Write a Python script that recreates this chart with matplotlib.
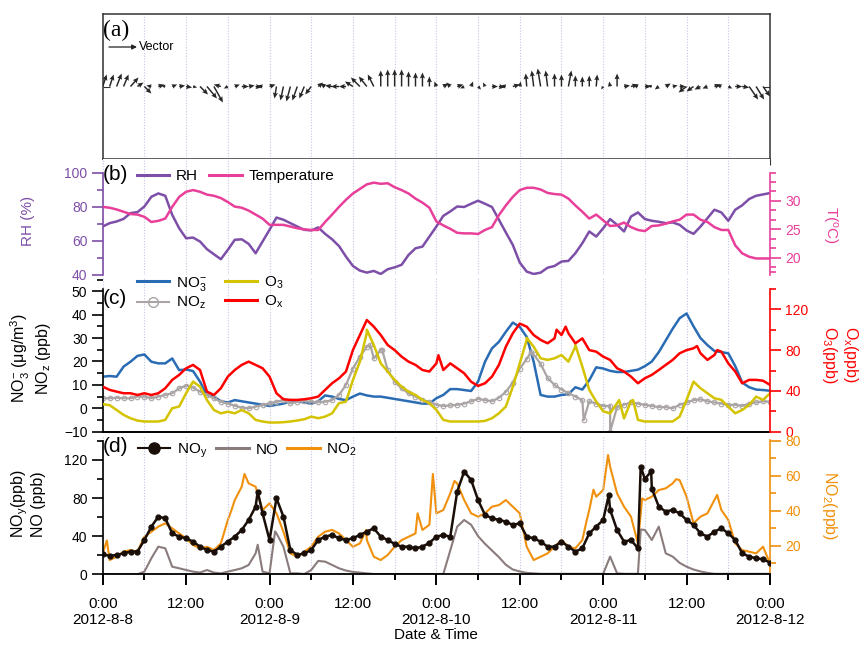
import numpy as np
import matplotlib.pyplot as plt
from matplotlib.ticker import MultipleLocator, FixedLocator
from matplotlib.lines import Line2D

plt.rcParams['font.family'] = ['Liberation Sans', 'DejaVu Sans']
plt.rcParams['mathtext.fontset'] = 'custom'
plt.rcParams['mathtext.rm'] = 'Liberation Sans'
plt.rcParams['mathtext.it'] = 'Liberation Sans:italic'
plt.rcParams['mathtext.bf'] = 'Liberation Sans:bold'

# hourly values, 2012-8-8 0:00 ... 2012-8-12 0:00
hours = np.arange(97)

# (a) wind vector components (screen px, u east / v north)
wind_u = [4, 4, 5, 5, 8, 6, 7, -5, 6, -4, 5, 6,
          6, 4, 8, 10, 9, -7, -4, 5, 7, 6, 6, -5,
          6, -2, -3, -4, -5, -5, -6, 5, -5, -7, -8, -7,
          -8, -9, -8, -6, 0, 0, 0, 0, 0, 0, 0, 0,
          -2, 5, -4, 6, -4, 2, 3, -2, 6, 6, -5, 7,
          1, -1, -2, -3, -2, 0, 0, 3, 0, 0, 0, 1,
          -2, -1, 0, 6, 7, -5, 6, -4, -4, 5, 5, 6,
          -8, -7, -6, -5, 6, -5, 4, 7, 7, 9, 8, 7, 6]
wind_v = [12, 12, 13, 12, 9, 4, -7, 1, 2, 1, 2, 1,
          -1, -1, -8, -12, -16, 2, -2, 2, 0, 1, -1, 1,
          2, -12, -14, -15, -14, -12, -8, 4, 3, 1, 0, 0,
          5, 9, 10, 12, 16, 17, 17, 17, 15, 14, 14, 10,
          5, 3, 4, 2, -2, 5, -3, 4, 0, -1, 1, 2,
          5, 13, 16, 18, 16, 13, 12, 16, 11, 10, 11, 12,
          -3, 5, 13, 1, 2, 2, 0, 1, -3, 3, 1, 0,
          -6, -5, -3, -2, 2, 2, -2, 0, -1, -13, -13, -10, 4]

# (b)
rh = [68.5, 70.5, 71.5, 73, 76.4, 77, 80.3, 86, 88, 86.6, 75.4, 67.5,
      61.6, 62, 59.7, 55.2, 52.2, 49.3, 54.8, 60.7, 61, 58.3, 52.8, 59.7,
      66.6, 73.8, 72.5, 70.5, 68.5, 66.6, 66.2, 68, 64.2, 61, 57, 50.8,
      45.3, 42.6, 41.4, 42.4, 40.6, 43.4, 44.5, 46, 51.8, 55.7, 56.7, 62.6,
      68.5, 74.8, 77.4, 80.3, 80, 81.9, 83.7, 81.9, 80, 72.5, 65, 57.7,
      47.3, 42, 40.6, 41.4, 44.3, 45.3, 47.9, 48.3, 52.8, 58.7, 65.6, 62.6,
      67.5, 72.9, 69.5, 65.6, 74.4, 76.8, 72.9, 71.9, 71.3, 70.5, 70.9, 69.5,
      66.2, 64.2, 68.5, 73.4, 78.4, 76.8, 71.9, 78.4, 81, 84.7, 86.6, 87.4, 88.2]
temp = [28.95, 28.8, 28.5, 28.1, 27.7, 27.6, 27.2, 26.3, 26.5, 26.9, 28.95, 30.7,
        31.6, 31.9, 31.6, 31.1, 30.9, 30.5, 29.8, 29, 28.8, 28.3, 27.6, 26.9,
        25.8, 25.8, 25.8, 25.5, 25.2, 25, 24.9, 24.9, 26.3, 27.6, 28.95, 30.2,
        31.3, 32.1, 32.9, 33.2, 33, 33.1, 32.4, 31.9, 31.3, 30.4, 29.7, 28.8,
        26.4, 25.7, 25.1, 24.4, 24.3, 24.3, 24.2, 24.9, 25.4, 27.5, 29.2, 30.7,
        31.9, 32.3, 32.3, 32, 31.4, 31.2, 31.1, 30.4, 29.2, 28.1, 26.9, 27.6,
        26.6, 25.6, 25.7, 26.2, 25.4, 24.9, 24.7, 25.6, 25.7, 26, 26.4, 26.7,
        27.6, 27.6, 26.7, 26.3, 25.4, 24.9, 24.9, 22.2, 20.8, 20.2, 19.9, 19.9, 19.9]

# (c)
no3 = [13.5, 13.8, 13.5, 17.8, 19.9, 22.4, 23, 19.9, 19.2, 19.2, 21.3, 16.3,
       16.6, 15.9, 11.4, 5.7, 5, 3, 2.5, 3.5, 3, 2.5, 2, 1.5,
       1, 1.5, 2, 3, 3, 2.5, 2, 3, 5.5, 5, 4, 3.5,
       5, 6.3, 5.5, 5, 5, 4.5, 4, 3.5, 3, 2.5, 2, 2,
       4.3, 5.7, 8.2, 8.2, 7.8, 7.4, 11.4, 19.9, 25.6, 28.4, 32.7, 36.6,
       34.8, 30.5, 19.9, 5.7, 5, 5, 5.7, 6, 9, 8, 12, 17.5,
       17, 16, 15.5, 15.5, 16, 16.5, 18, 20, 24, 29, 34, 38.5,
       40.5, 35, 30, 27, 24.5, 24, 23.5, 18, 11, 9, 8, 7.8, 7.5]
noz = [4.3, 4.3, 4.5, 4.3, 4.3, 5, 5, 4.3, 5, 5.7, 6.4, 8.5,
       9.7, 8.8, 7.1, 5.7, 4.3, 2.8, 2, 1.1, 0.3, 0, 0.7, 1.4,
       2.1, 2.8, 3.5, 2.1, 2.8, 3.1, 2.8, 2.6, 2.8, 3.5, 5.7, 10,
       17, 22, 26.3, 21.3, 24.9, 16.3, 11.4, 8.5, 6.4, 5, 3.5, 2.8,
       1.5, 1, 1.2, 1.5, 2, 3, 4, 3.5, 3, 4.5, 7, 11,
       17, 21, 23, 19, 13, 10, 8, 6.5, 5, 3.5, 3, 2,
       1, 1, 0.5, 1.5, 2.5, 2, 1.5, 1, 0.5, 0.5, 0, 1.5,
       2.5, 3.5, 3.8, 3, 2.5, 2, 1.5, 1.5, 1, 2, 2.5, 3, 2.8]
o3 = [27, 26, 21.3, 16.5, 13.2, 10.9, 10, 10, 10, 11.6, 23, 24.7,
      37.7, 49.1, 44.2, 31, 21.3, 18, 19.6, 18, 21.3, 18, 11.6, 10,
      9, 9, 9.3, 10, 11, 12.2, 14.8, 13.2, 14.8, 18, 28, 29.5,
      50.8, 68.7, 97, 85, 67, 59, 50.8, 44.2, 39.3, 36, 31.2, 28,
      21.4, 11.6, 10, 10, 10, 10, 10, 10.6, 13.2, 18, 24.7, 44,
      67, 90, 83.4, 72, 70.4, 72, 75.2, 68.7, 83.4, 63.8, 41, 29.5,
      20, 18, 28, 13, 30, 11.6, 10, 10, 10, 10, 10, 14.8,
      31.2, 49.1, 42.6, 37.7, 32.8, 31.2, 24.6, 18, 21.3, 26.3, 34.4, 31.2, 37.7]
ox = [44.2, 41, 39.3, 37.7, 37.7, 36, 37.7, 36, 37.7, 42.6, 50.8, 55.7,
      62.2, 65.5, 60.5, 39.3, 36, 42.6, 54, 60.5, 65.5, 68.7, 65.5, 62.2,
      54, 37.7, 31.8, 31.2, 31.2, 31.8, 32.8, 34.4, 41, 47.5, 52.4, 59,
      80.1, 94.8, 109.5, 103, 94.8, 85, 80, 73.6, 68.7, 65.5, 60.5, 59,
      67, 60.5, 67, 62.2, 57.3, 49, 44.9, 47.5, 54, 65.5, 83.4, 96.5,
      106, 103, 94.8, 90, 86.7, 91.5, 94.8, 96.5, 86.7, 91.5, 80, 78.5,
      73.6, 70.4, 62.2, 59, 54, 47.5, 52.4, 55.7, 60.5, 65.5, 70.4, 76.9,
      80, 81.8, 76.9, 70.4, 75.2, 78.5, 67, 59, 47.5, 50.8, 50.8, 50, 45.9]

# (d)
noy = [21, 19.3, 20.3, 22, 23.8, 23.8, 36, 50, 60.5, 58.8, 43, 39.5,
       37.8, 34.3, 29, 25.5, 23.8, 29, 34.3, 39.5, 46.5, 57, 71, 64,
       36, 79.8, 60.5, 25.5, 20.3, 22, 25.5, 36, 39.5, 41.3, 37.8, 36,
       37.8, 41.3, 44.8, 48.3, 39.5, 36, 31.9, 29, 29, 27.3, 29, 33,
       39.5, 41.3, 39.5, 86.8, 107.8, 99, 78, 62.3, 58.8, 57, 55.3, 51.8,
       53.5, 39.5, 37.8, 34.3, 29, 29, 34.3, 29, 23.8, 27.3, 43, 50,
       57, 67.6, 46.5, 34.3, 36, 27.3, 100, 90, 71, 65.8, 67.6, 64,
       57, 51.8, 43, 39.5, 44.8, 48.3, 43, 36, 22, 18.6, 16.8, 15.8, 12.3]
no = [0, 0, 0, 0, 0, 0, 2.8, 16.8, 29, 27.3, 8, 6.3,
      4.5, 2.8, 1.8, 4.5, 1.8, 1, 2.8, 4.5, 6.3, 9.8, 22, 2.8,
      1, 43, 29, 1, 1, 0.3, 4.5, 14, 13.3, 9.8, 6.3, 3.9,
      2.5, 1.8, 1, 0.3, 0.3, 0.3, 0.3, 0.3, 0.3, 0.3, 0.3, 0.3,
      0.3, 0.3, 25, 50, 57, 52, 40, 32, 25, 18, 10, 5,
      3, 1.5, 1, 0.5, 0.5, 0.5, 0.5, 0.5, 0.5, 0.5, 0.5, 0.5,
      0.5, 18.6, 1, 0.5, 0.5, 0.5, 46.5, 36, 50, 22, 18.6, 12,
      8, 5, 3, 1.5, 0.5, 0.5, 0.5, 0.5, 0.5, 0.5, 0.5, 0.5, 0.5]
no2 = [15.6, 11.8, 13.7, 16.6, 17.5, 16.6, 25.1, 28, 30.9, 32.8, 29.9, 27,
       24.2, 20.4, 18.5, 19.4, 17.5, 21.3, 34.7, 46.1, 53.7, 55.6, 53.7, 40.4,
       44.2, 38.5, 28, 15.6, 13.7, 16.6, 19.4, 25.1, 28, 29, 27, 23.2,
       19.4, 21.3, 23.2, 13.7, 11.8, 14.7, 19.4, 23.2, 25.1, 27, 29, 32,
       38.5, 40.4, 49.9, 55.6, 46.1, 38.5, 36.6, 38.5, 42.3, 43.2, 46.1, 42.3,
       38.5, 19.4, 11.8, 13.7, 15.6, 19.4, 23.2, 19.4, 18.5, 23.2, 40.4, 48,
       51.8, 65.1, 49.9, 42.3, 36.6, 21.3, 46.1, 48, 51.8, 52.8, 55.6, 57.5,
       48, 32.8, 36.6, 38.5, 46.1, 40.4, 34.7, 21.3, 17.5, 16.6, 15.6, 19.4, 9.9]

# short-lived spikes between the hourly readings (hour, value)
no2_spike_t = [0.6, 18.5, 20.4, 37.9, 45.3, 47.5, 50.6, 69.6, 70.6, 72.7, 77.6, 82.5, 88.4]
no2_spike_v = [23, 40, 61, 29, 38.5, 61, 57, 34, 52, 71.8, 47, 58, 49]
noy_spike_t = [22.3, 72.8, 77.4, 78.9]
noy_spike_v = [86.8, 83, 113, 108]
no_spike_t = [22.3, 24.8, 77.4]
no_spike_v = [31, 45, 47]
ox_spike_t = [48.3, 65.3, 66.6, 85.5, 88.4]
ox_spike_v = [75, 100, 103, 84, 80]
o3_spike_t = [38.0, 61.0, 68.0, 74.3, 76.3]
o3_spike_v = [100, 92, 85, 31, 31]
noz_spike_t = [38.5, 40.2, 61.6, 69.2, 73.0]
noz_spike_v = [27, 25, 24, -5, -10]

xtick_labels = ['0:00\n2012-8-8', '12:00', '0:00\n2012-8-9', '12:00', '0:00\n2012-8-10',
                '12:00', '0:00\n2012-8-11', '12:00', '0:00\n2012-8-12']

c_rh, c_t = '#7d4fa8', '#e8409a'
c_no3, c_o3, c_noz, c_ox = '#2a6cb4', '#d4c300', '#aaa4a4', '#ff0000'
c_noy, c_no, c_no2 = '#1a0e08', '#8a7c7c', '#f0900c'
c_grid = '#c6c6e2'


def with_spikes(base, st, sv):
    t = np.concatenate([hours, st])
    v = np.concatenate([base, sv])
    order = np.argsort(t, kind='stable')
    return t[order], v[order]


W, H = 860, 646
X0, X1 = 102.7, 770
fig = plt.figure(figsize=(W / 100, H / 100), dpi=100)


def panel(top, bottom):
    return fig.add_axes([X0 / W, 1 - bottom / H, (X1 - X0) / W, (bottom - top) / H])


def fxy(x, y):
    return x / W, 1 - y / H


def xgrid(ax):
    ax.set_xlim(0, 96)
    ax.xaxis.set_major_locator(MultipleLocator(6))
    ax.grid(axis='x', which='major', color=c_grid, ls=(0, (1, 1.5)), lw=0.8)
    ax.tick_params(axis='x', bottom=False, top=False, labelbottom=False)


def yside(ax, side, color, major, minor, lo, hi):
    for s in ['left', 'right', 'top', 'bottom']:
        if s != side:
            ax.spines[s].set_visible(False)
    ax.spines[side].set_color(color)
    ax.spines[side].set_linewidth(1.2)
    ax.spines[side].set_bounds(lo, hi)
    ax.yaxis.set_ticks_position(side)
    ax.yaxis.set_major_locator(MultipleLocator(major))
    ax.yaxis.set_minor_locator(MultipleLocator(minor))
    ax.tick_params(axis='y', which='major', length=8, width=1.2, color=color,
                   labelcolor=color, labelsize=10, pad=3)
    ax.tick_params(axis='y', which='minor', length=4.5, width=1.2, color=color)


# ---------------- (a) wind vectors
ax_a = panel(14, 159)
xgrid(ax_a)
ax_a.set_ylim(-1, 1)
ax_a.quiver(hours, np.zeros(len(hours)), wind_u, wind_v, angles='uv',
            scale_units='dots', scale=1, pivot='tail', width=0.0022,
            headwidth=3.5, headlength=4, headaxislength=3.5, color='#262626', zorder=3)
for s in ax_a.spines.values():
    s.set_color('#333333')
    s.set_linewidth(1.1)
ax_a.tick_params(axis='x', bottom=True, length=4, direction='out', color='#333333')
ax_a.set_yticks([0])
ax_a.tick_params(axis='y', left=True, right=True, direction='in', length=5,
                 labelleft=False, color='#333333')
ax_a.annotate('', xy=fxy(137, 47), xytext=fxy(109, 47), xycoords='figure fraction',
              arrowprops=dict(arrowstyle='-|>', color='#222222', lw=0.9,
                              mutation_scale=7, shrinkA=0, shrinkB=0))
fig.text(*fxy(139, 47), 'Vector', fontsize=9, va='center', ha='left')
fig.text(*fxy(103, 30), '(a)', family='Liberation Serif', fontsize=17, va='center')

# ---------------- (b) RH and T
ax_b = panel(159, 275)
xgrid(ax_b)
ax_b.plot(hours, rh, color=c_rh, lw=1.8)
ax_b.set_ylim(40, 40 + 116 / 1.7)
yside(ax_b, 'left', c_rh, 20, 10, 40, 100)
ax_b2 = ax_b.twinx()
ax_b2.set_xlim(0, 96)
ax_b2.plot(hours, temp, color=c_t, lw=1.8)
ax_b2.set_ylim(17, 17 + 116 / 5.7)
yside(ax_b2, 'right', c_t, 5, 5 / 3, 17, 34.9)
ax_b2.yaxis.set_major_locator(FixedLocator([20, 25, 30]))
ax_b2.yaxis.set_minor_locator(FixedLocator([17.5, 18.33, 21.67, 23.33, 26.67, 28.33,
                                            31.67, 33.33, 34.9]))
ax_b2.tick_params(axis='x', bottom=False, top=False, labelbottom=False)
fig.text(*fxy(103, 175), '(b)', fontsize=15, va='center')
hb = [Line2D([], [], color=c_rh, lw=2.2), Line2D([], [], color=c_t, lw=2.2)]
fig.legend(hb, ['RH', 'Temperature'], loc='center left', bbox_to_anchor=fxy(137, 176),
           ncol=2, frameon=False, fontsize=11, handlelength=2.1, handletextpad=0.45,
           columnspacing=0.75, borderpad=0, borderaxespad=0)
fig.text(*fxy(28, 221), 'RH (%)', color=c_rh, fontsize=11, rotation=90,
         ha='center', va='center')
fig.text(*fxy(829, 225), 'T($^\\mathrm{o}$C)', color=c_t, fontsize=11, rotation=270,
         ha='center', va='center')

# ---------------- (c) NO3-, NOz, O3, Ox
ax_c = panel(277, 431.7)
xgrid(ax_c)
ax_c.plot(hours, no3, color=c_no3, lw=1.8)
ax_c.plot(*with_spikes(noz, noz_spike_t, noz_spike_v), color=c_noz, lw=1.6,
          marker='o', ms=3.3, mfc='none', mew=0.8)
ax_c.set_ylim(-10, 56.1)
yside(ax_c, 'left', 'black', 10, 5, -10, 51)
ax_c.spines['bottom'].set_visible(True)
ax_c.spines['bottom'].set_linewidth(1.4)
ax_c2 = ax_c.twinx()
ax_c2.set_xlim(0, 96)
ax_c2.plot(*with_spikes(o3, o3_spike_t, o3_spike_v), color=c_o3, lw=1.8)
ax_c2.plot(*with_spikes(ox, ox_spike_t, ox_spike_v), color=c_ox, lw=1.8)
ax_c2.set_ylim(0, 151.7)
yside(ax_c2, 'right', c_ox, 40, 20, 0, 140)
ax_c2.tick_params(axis='x', bottom=False, top=False, labelbottom=False)
fig.text(*fxy(103, 299), '(c)', fontsize=15, va='center')
hc = [Line2D([], [], color=c_no3, lw=2.2),
      Line2D([], [], color=c_noz, lw=1.5, marker='o', ms=7, mfc='none', mew=1),
      Line2D([], [], color=c_o3, lw=2.2),
      Line2D([], [], color=c_ox, lw=2.2)]
fig.legend(hc, ['NO$_3^{-}$', 'NO$_\\mathrm{z}$', 'O$_3$', 'O$_\\mathrm{x}$'],
           loc='center left', bbox_to_anchor=fxy(137, 293), ncol=2, frameon=False,
           fontsize=11, handlelength=2.1, handletextpad=0.45, columnspacing=1.2,
           labelspacing=0.15, borderpad=0, borderaxespad=0)
fig.text(*fxy(31, 358), 'NO$_3^{-}$ (μg/m$^3$)\nNO$_\\mathrm{z}$ (ppb)', fontsize=11.5,
         rotation=90, ha='center', va='center', multialignment='center', linespacing=1.15)
fig.text(*fxy(840, 355), 'O$_\\mathrm{x}$(ppb)\nO$_3$(ppb)', color=c_ox, fontsize=11.5,
         rotation=270, ha='center', va='center', multialignment='center', linespacing=1.15)

# ---------------- (d) NOy, NO, NO2
ax_d = panel(436, 574.3)
ax_d.set_xlim(0, 96)
ax_d2 = ax_d.twinx()
ax_d2.set_xlim(0, 96)
ax_d2.plot(*with_spikes(no2, no2_spike_t, no2_spike_v), color=c_no2, lw=1.5)
ax_d2.set_ylim(80 - (574.3 - 440.7) / 1.75, 80 + (440.7 - 436) / 1.75)
yside(ax_d2, 'right', c_no2, 20, 10, 80 - (574.3 - 440.7) / 1.75, 80.5)
ax_d.set_zorder(ax_d2.get_zorder() + 1)
ax_d.patch.set_visible(False)
ax_d.plot(*with_spikes(no, no_spike_t, no_spike_v), color=c_no, lw=1.5)
ax_d.plot(*with_spikes(noy, noy_spike_t, noy_spike_v), color=c_noy, lw=1.8,
          marker='o', ms=3.5)
ax_d.set_ylim(0, (574.3 - 436) / 0.953)
yside(ax_d, 'left', 'black', 40, 20, 0, 140)
ax_d.spines['bottom'].set_visible(True)
ax_d.spines['bottom'].set_linewidth(1.3)
ax_d.set_xticks(np.arange(0, 97, 12))
ax_d.set_xticklabels(xtick_labels)
ax_d.xaxis.set_minor_locator(MultipleLocator(6))
ax_d.tick_params(axis='x', which='major', length=8, width=1.4, direction='out',
                 labelsize=11, pad=8)
ax_d.tick_params(axis='x', which='minor', length=4, width=1.4, direction='out')
ax_d.grid(axis='x', which='both', color=c_grid, ls=(0, (1, 1.5)), lw=0.8)
ax_d2.tick_params(axis='x', bottom=False, top=False, labelbottom=False)
fig.text(*fxy(103, 447), '(d)', fontsize=15, va='center')
hd = [Line2D([], [], color=c_noy, lw=1.5, marker='o', ms=8),
      Line2D([], [], color=c_no, lw=2.2),
      Line2D([], [], color=c_no2, lw=2.2)]
fig.legend(hd, ['NO$_\\mathrm{y}$', 'NO', 'NO$_2$'], loc='center left',
           bbox_to_anchor=fxy(138, 451), ncol=3, frameon=False, fontsize=11,
           handlelength=2.1, handletextpad=0.45, columnspacing=0.6,
           borderpad=0, borderaxespad=0)
fig.text(*fxy(28, 504), 'NO$_\\mathrm{y}$(ppb)\nNO (ppb)', fontsize=11.5,
         rotation=90, ha='center', va='center', multialignment='center', linespacing=1.1)
fig.text(*fxy(830, 506), 'NO$_2$(ppb)', color=c_no2, fontsize=11.5,
         rotation=270, ha='center', va='center')
fig.text(*fxy(436, 635), 'Date & Time', fontsize=11, ha='center', va='center')

fig.savefig('out.png', dpi=100)
